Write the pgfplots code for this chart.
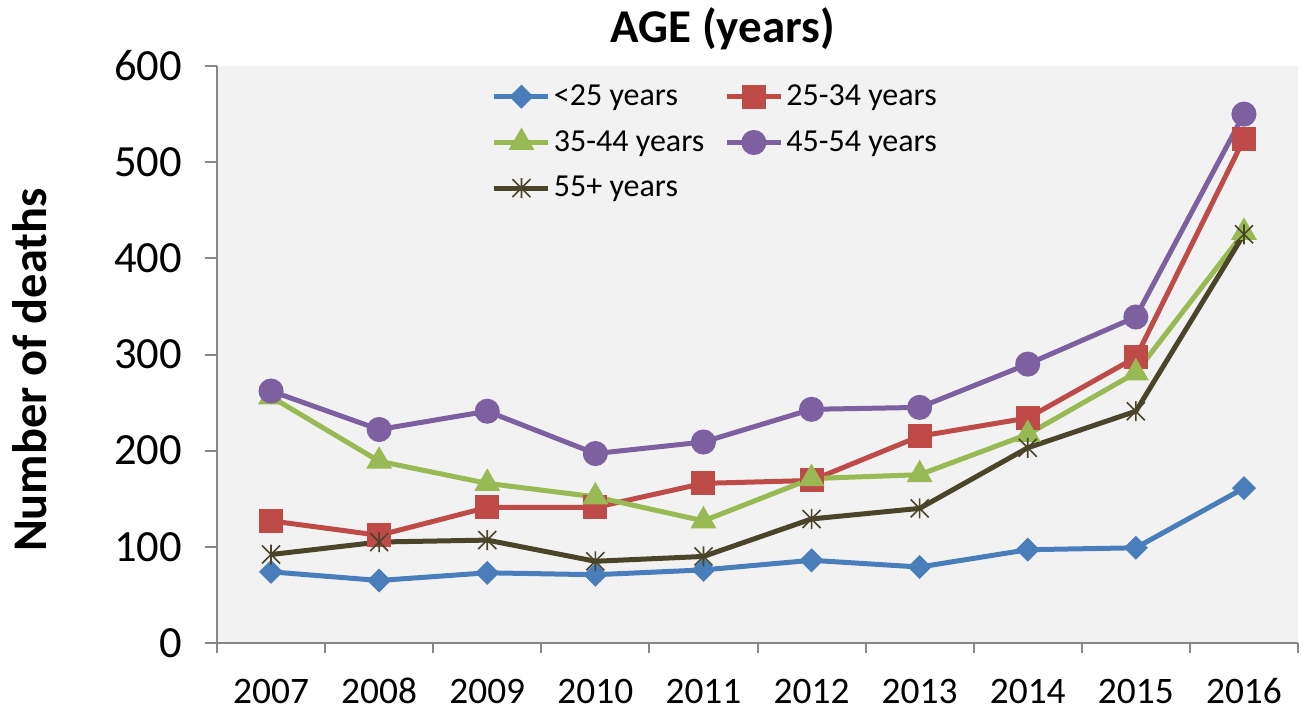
\documentclass[border=0pt]{standalone}
\usepackage{pgfplots}
\pgfplotsset{compat=1.18}
\usepackage{fontspec}
\setmainfont{Carlito}
\definecolor{cblue}{HTML}{4A7EBB}
\definecolor{cred}{HTML}{BE4B48}
\definecolor{cgreen}{HTML}{98B954}
\definecolor{cpurple}{HTML}{7D60A0}
\definecolor{cdark}{HTML}{4A452A}
\definecolor{bgcol}{HTML}{F2F2F2}
\definecolor{axgray}{HTML}{868686}
% Excel-style star: an X with a vertical bar
\pgfdeclareplotmark{xstar}{%
  \pgfpathmoveto{\pgfqpoint{-0.9\pgfplotmarksize}{-0.9\pgfplotmarksize}}%
  \pgfpathlineto{\pgfqpoint{0.9\pgfplotmarksize}{0.9\pgfplotmarksize}}%
  \pgfpathmoveto{\pgfqpoint{-0.9\pgfplotmarksize}{0.9\pgfplotmarksize}}%
  \pgfpathlineto{\pgfqpoint{0.9\pgfplotmarksize}{-0.9\pgfplotmarksize}}%
  \pgfpathmoveto{\pgfqpoint{0pt}{-\pgfplotmarksize}}%
  \pgfpathlineto{\pgfqpoint{0pt}{\pgfplotmarksize}}%
  \pgfusepathqstroke}
\begin{document}
\begin{tikzpicture}
\useasboundingbox (-108.5pt,-34.5pt) rectangle (544.5pt,321.5pt);
\begin{axis}[
  scale only axis,
  width=540.5pt, height=288.5pt,
  xmin=-0.5, xmax=9.5, ymin=0, ymax=600,
  axis lines=left,
  axis line style={-, draw=axgray, line width=1pt},
  axis background/.style={fill=bgcol},
  xtick={0,...,9},
  xticklabels={2007,2008,2009,2010,2011,2012,2013,2014,2015,2016},
  minor xtick={-0.5,0.5,...,9.5},
  major x tick style={draw=none},
  minor x tick style={draw=axgray, line width=1pt},
  minor tick length=5pt,
  ytick={0,100,...,600},
  y tick style={draw=axgray, line width=1pt},
  major tick length=6pt,
  tick align=outside,
  /pgf/number format/assume math mode=true,
  xticklabel style={anchor=base, yshift=-24pt, font=\fontsize{18.7}{22}\selectfont},
  yticklabel style={anchor=east, xshift=-8pt, font=\fontsize{22.3}{26}\selectfont},
  title={\bfseries AGE (years)},
  title style={at={(0.468,1)}, anchor=south, inner sep=0pt, yshift=2pt, font=\fontsize{23.5}{27}\selectfont},
  ylabel={\bfseries Number of deaths},
  ylabel style={at={(axis description cs:-0.173,0.473)}, anchor=center, font=\fontsize{24.2}{28}\selectfont},
  legend columns=2,
  legend cell align=left,
  legend style={draw=none, fill=none, at={(axis description cs:0.254,0.975)}, anchor=north west,
    font=\fontsize{16}{19}\selectfont, row sep=7pt, inner sep=0pt,
    nodes={inner xsep=1.5pt},
    /tikz/every even column/.append style={column sep=8.5pt}},
  legend image code/.code={\draw[mark repeat=2,mark phase=2] plot coordinates {(0pt,0pt) (13.5pt,0pt) (27pt,0pt)};},
  every axis plot/.append style={line width=2.5pt},
]
\addplot[color=cblue, mark=square*, mark size=3pt, mark options={rotate=45}] coordinates {
(0,74) (1,65) (2,73) (3,71) (4,76) (5,86) (6,79) (7,97) (8,99) (9,161)};
\addlegendentry{<25 years}
\addplot[color=cred, mark=square*, mark size=4.75pt] coordinates {
(0,127) (1,112) (2,141) (3,141) (4,166) (5,169) (6,215) (7,234) (8,297) (9,524)};
\addlegendentry{25-34 years}
\addplot[color=cgreen, mark=triangle*, mark size=5pt] coordinates {
(0,256) (1,189) (2,166) (3,152) (4,127) (5,171) (6,175) (7,217) (8,281) (9,427)};
\addlegendentry{35-44 years}
\addplot[color=cpurple, mark=*, mark size=5pt] coordinates {
(0,262) (1,222) (2,241) (3,197) (4,209) (5,243) (6,245) (7,290) (8,339) (9,550)};
\addlegendentry{45-54 years}
\addplot[color=cdark, mark=xstar, mark size=5pt, mark options={line width=0.8pt}] coordinates {
(0,92) (1,105) (2,107) (3,85) (4,90) (5,129) (6,140) (7,203) (8,241) (9,425)};
\addlegendentry{55+ years}
\end{axis}
\end{tikzpicture}
\end{document}
